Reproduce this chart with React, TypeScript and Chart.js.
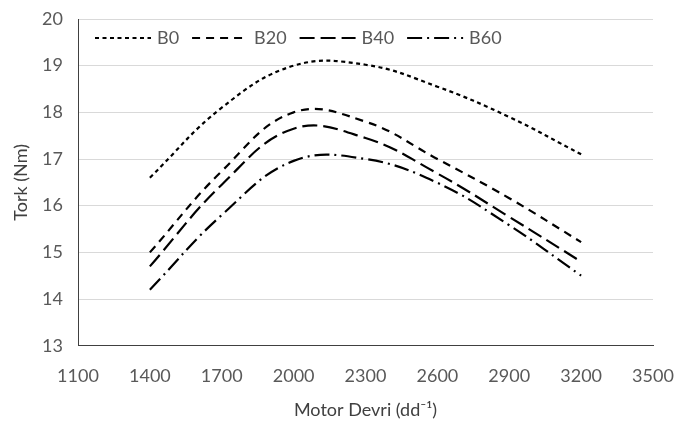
import React, { useEffect, useRef } from "react";
import { Chart, registerables } from "chart.js";

Chart.register(...registerables);

// ---- data ----
const rpm = [1400, 1700, 2000, 2300, 2600, 2900, 3200];
const seriesNames = ["B0", "B20", "B40", "B60"];
const b0 = [16.6, 18.1, 19.0, 19.02, 18.55, 17.9, 17.1];
const b20 = [15.0, 16.74, 18.0, 17.8, 17.0, 16.16, 15.22];
const b40 = [14.7, 16.45, 17.65, 17.45, 16.69, 15.76, 14.8];
const b60 = [14.2, 15.8, 16.96, 17.0, 16.49, 15.58, 14.5];
const xTicks = [1100, 1400, 1700, 2000, 2300, 2600, 2900, 3200, 3500];
const yTicks = [13, 14, 15, 16, 17, 18, 19, 20];
const xTitle = "Motor Devri (dd\u207B\u00B9)";
const yTitle = "Tork (Nm)";

const FONT = 'Lato, "Open Sans", sans-serif';
const FS = 18;
const dashes = [[4, 3.5], [8, 6], [15, 6], [15, 5, 2, 5]];
const seriesValues = [b0, b20, b40, b60];

const inlineLegend = {
  id: "inlineLegend",
  afterDraw(chart: any) {
    const ctx = chart.ctx;
    const area = chart.chartArea;
    ctx.save();
    ctx.font = `${FS}px ${FONT}`;
    ctx.textBaseline = "middle";
    ctx.textAlign = "left";
    let x = area.left + 17;
    const y = area.top + 19;
    chart.data.datasets.forEach((ds: any) => {
      ctx.setLineDash(ds.borderDash || []);
      ctx.lineWidth = ds.borderWidth;
      ctx.strokeStyle = ds.borderColor;
      ctx.beginPath();
      ctx.moveTo(x, y);
      ctx.lineTo(x + 56, y);
      ctx.stroke();
      x += 62;
      ctx.setLineDash([]);
      ctx.fillStyle = "#595959";
      ctx.fillText(ds.label, x, y);
      x += ctx.measureText(ds.label).width + 13;
    });
    ctx.restore();
  },
};

const zeroPad = (s: any) => {
  s.paddingTop = 0;
  s.paddingBottom = 0;
  s.paddingLeft = 0;
  s.paddingRight = 0;
};

export default function App() {
  const ref = useRef<HTMLCanvasElement | null>(null);

  useEffect(() => {
    document.body.style.margin = "0";
    if (!ref.current) return;
    const datasets = seriesNames.map((name, i) => ({
      label: name,
      data: rpm.map((x, j) => ({ x, y: seriesValues[i][j] })),
      borderColor: "#000000",
      backgroundColor: "transparent",
      borderWidth: 2.2,
      borderDash: dashes[i],
      borderCapStyle: "butt",
      pointRadius: 0,
      showLine: true,
      tension: 0.4,
      fill: false,
    }));
    const chart = new Chart(ref.current, {
      type: "scatter",
      data: { datasets } as any,
      plugins: [inlineLegend],
      options: {
        animation: false,
        responsive: false,
        devicePixelRatio: 1,
        layout: { padding: { top: 19, right: 23, left: 0, bottom: 0 } },
        plugins: { legend: { display: false }, tooltip: { enabled: false } },
        scales: {
          x: {
            type: "linear",
            min: xTicks[0],
            max: xTicks[xTicks.length - 1],
            afterBuildTicks: (s: any) => {
              s.ticks = xTicks.map((v) => ({ value: v }));
            },
            afterFit: (s: any) => {
              s.height = 83.3;
              zeroPad(s);
            },
            grid: { display: false, drawTicks: false },
            border: { display: true, color: "#404040", width: 1 },
            ticks: {
              padding: 20,
              color: "#595959",
              font: { family: FONT, size: FS },
              callback: (v: any) => String(v),
            },
            title: {
              display: true,
              text: xTitle,
              color: "#404040",
              font: { family: FONT, size: FS },
              padding: { top: 0, bottom: 8 },
            },
          },
          y: {
            type: "linear",
            min: yTicks[0],
            max: yTicks[yTicks.length - 1],
            afterBuildTicks: (s: any) => {
              s.ticks = yTicks.map((v) => ({ value: v }));
            },
            afterFit: (s: any) => {
              s.width = 78;
              zeroPad(s);
            },
            grid: { color: "#d9d9d9", lineWidth: 1, drawTicks: false },
            border: { display: true, color: "#404040", width: 1 },
            ticks: {
              padding: 15,
              color: "#595959",
              font: { family: FONT, size: FS },
              callback: (v: any) => String(v),
            },
            title: {
              display: true,
              text: yTitle,
              color: "#404040",
              font: { family: FONT, size: FS },
              padding: { top: 10, bottom: 0 },
            },
          },
        },
      } as any,
    });
    return () => chart.destroy();
  }, []);

  return (
    <canvas
      ref={ref}
      width={676}
      height={429}
      style={{ display: "block", width: 676, height: 429 }}
    />
  );
}
